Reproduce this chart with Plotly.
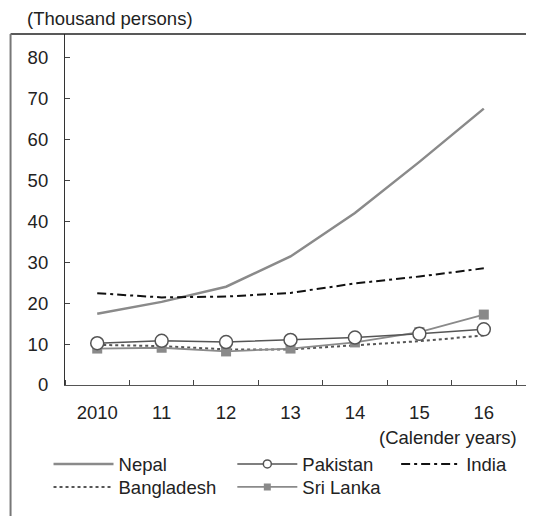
import plotly.graph_objects as go

years = ["2010", "11", "12", "13", "14", "15", "16"]
nepal = [17.4, 20.3, 24.0, 31.4, 42.0, 54.5, 67.5]
pakistan = [10.2, 10.8, 10.5, 11.0, 11.6, 12.5, 13.6]
india = [22.4, 21.4, 21.6, 22.5, 24.8, 26.5, 28.5]
bangladesh = [9.8, 9.5, 8.7, 8.7, 9.7, 10.7, 12.1]
srilanka = [8.9, 9.1, 8.2, 8.9, 10.4, 12.9, 17.2]
y_ticks = [0, 10, 20, 30, 40, 50, 60, 70, 80]

# page body has an 8px margin: work in window pixels, convert to figure pixels
OFF = 8
WIN_W, WIN_H = 534, 516
W, H = WIN_W - OFF, WIN_H - OFF
L, R, T, B = 64.5, 534, 34, 385.5          # plot area in window pixels

def px(x):
    return (x - L) / (R - L)

def py(y):
    return (B - y) / (B - T)

xs = list(range(len(years)))
FONT = "Liberation Sans, Arial, sans-serif"
FS = 18.5

styles = {
    "Nepal": dict(mode="lines", line=dict(color="#8a8a8a", width=2.5)),
    "Pakistan": dict(mode="lines+markers", line=dict(color="#555555", width=1.5),
                     marker=dict(symbol="circle", size=13, color="white",
                                 line=dict(color="#555555", width=1.5))),
    "India": dict(mode="lines", line=dict(color="#111111", width=2, dash="9px,4px,3px,4px")),
    "Bangladesh": dict(mode="lines", line=dict(color="#555555", width=2, dash="3px,3px")),
    "Sri Lanka": dict(mode="lines+markers", line=dict(color="#8a8a8a", width=1.8),
                      marker=dict(symbol="square", size=10, color="#8a8a8a")),
}
series = {"Nepal": nepal, "India": india, "Bangladesh": bangladesh,
          "Sri Lanka": srilanka, "Pakistan": pakistan}

fig = go.Figure()
for name, vals in series.items():
    fig.add_trace(go.Scatter(x=xs, y=vals, name=name, showlegend=False, **styles[name]))

# legend-only key entries (smaller markers, like the reference key), one legend each
legend_pos = {"Nepal": ("legend", 48, 446), "Pakistan": ("legend2", 232, 446),
              "India": ("legend3", 396, 446), "Bangladesh": ("legend4", 48, 469),
              "Sri Lanka": ("legend5", 232, 469)}
for name, (leg, _, _) in legend_pos.items():
    st = dict(styles[name])
    if "marker" in st:
        m = dict(st["marker"])
        m["size"] = 8 if name == "Pakistan" else 7
        st["marker"] = m
    fig.add_trace(go.Scatter(x=[None], y=[None], name=name, legend=leg,
                             showlegend=True, hoverinfo="skip", **st))

leg_common = dict(orientation="v", xanchor="left", yanchor="top", itemwidth=60,
                  font=dict(size=FS, family=FONT, color="#222222"),
                  bgcolor="rgba(0,0,0,0)", borderwidth=0)
legends = {leg: dict(x=px(x), y=py(y), **leg_common) for leg, x, y in legend_pos.values()}

fig.update_layout(
    width=W, height=H,
    margin=dict(l=L - OFF, r=WIN_W - R, t=T - OFF, b=WIN_H - B, pad=0, autoexpand=False),
    paper_bgcolor="white", plot_bgcolor="white",
    font=dict(family=FONT, size=FS, color="#222222"),
    xaxis=dict(range=[-0.5, -0.5 + (R - L) / 64.5], tickvals=xs, ticktext=years,
               ticks="", showgrid=False, zeroline=False, showline=True,
               linecolor="#555555", linewidth=1.2, ticklabelstandoff=11,
               tickfont=dict(size=FS),
               minor=dict(tickvals=[i + 0.5 for i in range(-1, 7)], ticks="inside",
                          ticklen=5, tickcolor="#444444", tickwidth=1, showgrid=False)),
    yaxis=dict(range=[0, (B - T) / 4.1], tickvals=y_ticks, ticks="inside", ticklen=5,
               tickcolor="#444444", showgrid=False, zeroline=False, showline=True,
               linecolor="#333333", linewidth=1.2, ticklabelstandoff=12,
               tickfont=dict(size=FS)),
    **legends,
)

fig.add_annotation(text="(Thousand persons)", x=px(24), y=py(18), xref="paper", yref="paper",
                   xanchor="left", yanchor="middle", showarrow=False, font=dict(size=FS))
fig.add_annotation(text="(Calender years)", x=px(519), y=py(438), xref="paper", yref="paper",
                   xanchor="right", yanchor="middle", showarrow=False, font=dict(size=FS))

# frame lines
fig.add_shape(type="line", xref="paper", yref="paper", x0=px(10), x1=px(540), y0=py(34), y1=py(34),
              line=dict(color="#222222", width=1.5))
fig.add_shape(type="line", xref="paper", yref="paper", x0=px(10), x1=px(10), y0=py(34), y1=py(520),
              line=dict(color="#777777", width=2))

fig.write_html("out.html")
